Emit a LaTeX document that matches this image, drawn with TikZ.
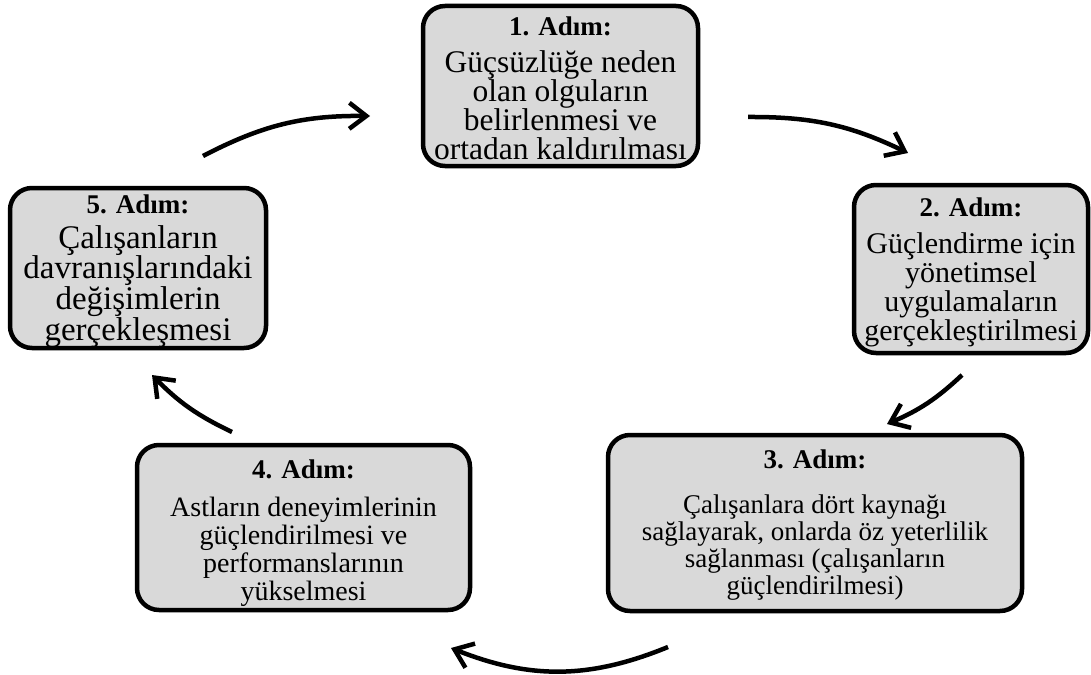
\documentclass[tikz,border=0pt]{standalone}
\usepackage{fontspec}
\setmainfont{Liberation Serif}
\usetikzlibrary{arrows.meta}

\definecolor{kutugri}{HTML}{D9D9D9}

% step title (optional strut height) and body text
\newcommand{\baslik}[2][0pt]{{\fontsize{27}{29}\selectfont\bfseries\rule{0pt}{#1}#2}}
\newcommand{\govde}[2]{\fontsize{#1}{#2}\selectfont}

\begin{document}
\begin{tikzpicture}[x=1pt, y=-1pt,
    adim/.style={draw, line width=4.5pt, fill=kutugri, rounded corners=22pt,
                 align=center, inner sep=0pt},
    ok/.style={line width=4.5pt, -{Straight Barb[length=17pt,width=26pt]}}]
    % Canvas
    \useasboundingbox (0,0) rectangle (1091,674);

    % Steps of the cycle
    \node[adim, minimum width=275pt, minimum height=160pt, font=\govde{31.5}{29}]
        (adim1) at (560.5,86) {\baslik[22.5pt]{1. Adım:}\\[8pt]
        Güçsüzlüğe neden\\ olan olguların\\ belirlenmesi ve\\ ortadan kaldırılması};
    \node[adim, minimum width=234pt, minimum height=168pt, font=\govde{30}{29}]
        (adim2) at (971,269) {\baslik[24.5pt]{2. Adım:}\\[8pt]
        Güçlendirme için\\ yönetimsel\\ uygulamaların\\ gerçekleştirilmesi};
    \node[adim, minimum width=414pt, minimum height=176pt, font=\govde{27}{27}]
        (adim3) at (815,523) {\baslik[22pt]{3. Adım:}\\[18pt]
        Çalışanlara dört kaynağı\\ sağlayarak, onlarda öz yeterlilik\\
        sağlanması (çalışanların\\ güçlendirilmesi)};
    \node[adim, minimum width=333pt, minimum height=165pt, font=\govde{28}{28}]
        (adim4) at (303.5,527.5) {\baslik[29.5pt]{4. Adım:}\\[10pt]
        Astların deneyimlerinin\\ güçlendirilmesi ve\\ performanslarının\\ yükselmesi};
    \node[adim, minimum width=256pt, minimum height=160pt, font=\govde{33}{29}]
        (adim5) at (138,268) {\baslik[25pt]{5. Adım:}\\[6pt]
        Çalışanların\\ davranışlarındaki\\ değişimlerin\\ gerçekleşmesi};

    % Arrow ends
    \coordinate (ok1a) at (203,156);
    \coordinate (ok1b) at (370,116);
    \coordinate (ok2a) at (748,117);
    \coordinate (ok2b) at (908,153);
    \coordinate (ok3a) at (962,375);
    \coordinate (ok3b) at (887,424);
    \coordinate (ok4a) at (668,647);
    \coordinate (ok4b) at (451,648);
    \coordinate (ok5a) at (232,432);
    \coordinate (ok5b) at (152,375);

    % Curved arrows going round
    \draw[ok] (ok1a) to[bend left=14] (ok1b);
    \draw[ok] (ok2a) to[bend left=13] (ok2b);
    \draw[ok] (ok3a) to[bend left=10] (ok3b);
    \draw[ok] (ok4a) to[bend left=22] (ok4b);
    \draw[ok] (ok5a) to[bend left=10] (ok5b);
\end{tikzpicture}
\end{document}
